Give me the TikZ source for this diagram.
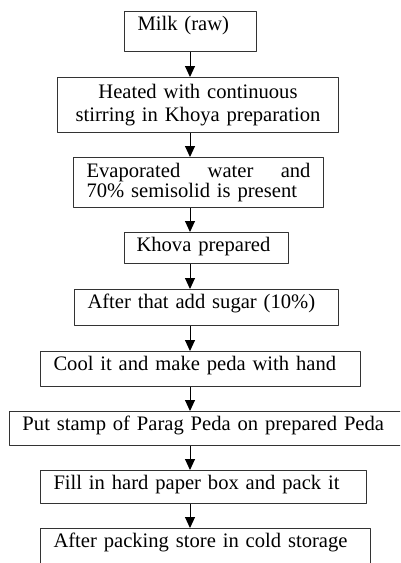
\documentclass[tikz,border=0pt]{standalone}
\usepackage{fontspec}
\setmainfont{Liberation Serif}
\usetikzlibrary{arrows.meta}
\begin{document}
\begin{tikzpicture}[x=1pt, y=-1pt, line join=round, >={Triangle[width=10pt,length=11pt]},
    stepbox/.style={draw=black!80, line width=1pt, anchor=north west, inner xsep=13pt, inner ysep=0pt,
      align=left, font=\fontsize{20.6}{23}\selectfont},
    oneline/.style={text height=19pt}]
    \def\ax{190} % x of the arrows
    \useasboundingbox (0,0) rectangle (400,563);
    \clip (0,0) rectangle (400,563);
    \node[stepbox, oneline, minimum width=132pt, text width=106pt, text depth=21pt] (milk) at (124,11) {Milk (raw)};
    \node[stepbox, minimum width=281pt, minimum height=55pt, text width=255pt, align=center] (heat) at (57,77)
      {Heated with continuous\\stirring in Khoya preparation};
    \node[stepbox, minimum width=250pt, minimum height=50pt, text width=224pt] (evap) at (73,157)
      {\makebox[224pt][s]{Evaporated\hfill water\hfill and}\\[-3pt]70\% semisolid is present};
    \node[stepbox, oneline, minimum width=164pt, text width=140pt, inner xsep=12pt, text depth=12pt] (khova) at (124,232) {Khova prepared};
    \node[stepbox, oneline, minimum width=264pt, text width=238pt, text depth=17pt] (sugar) at (74,289) {After that add sugar (10\%)};
    \node[stepbox, oneline, minimum width=320pt, text width=294pt, text depth=16pt] (cool) at (40,351) {Cool it and make peda with hand};
    \node[stepbox, oneline, minimum width=395pt, text width=369pt, text depth=15pt] (stamp) at (9,411) {Put stamp of Parag Peda on prepared Peda};
    \node[stepbox, oneline, minimum width=326pt, text width=300pt, text depth=14pt] (fill) at (40,470) {Fill in hard paper box and pack it};
    \node[stepbox, oneline, minimum width=330pt, text width=304pt, text depth=31pt] (store) at (40,528) {After packing store in cold storage};
    \coordinate (ax) at (\ax,0);
    \foreach \p/\q in {milk/heat, heat/evap, evap/khova, khova/sugar, sugar/cool, cool/stamp, stamp/fill, fill/store}
      \draw[->, line width=1pt] (\p.south -| ax) -- (\q.north -| ax);
\end{tikzpicture}
\end{document}
